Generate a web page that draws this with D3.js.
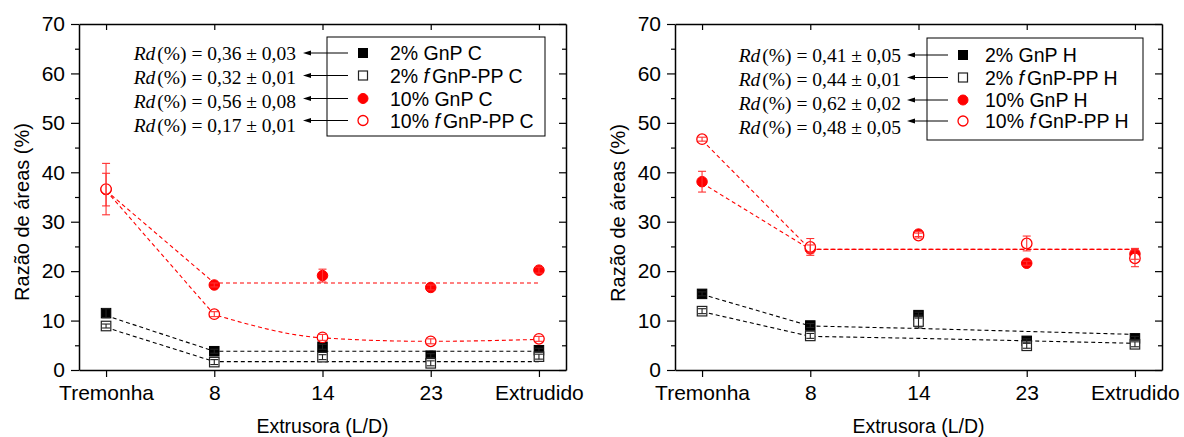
<!DOCTYPE html>
<html><head><meta charset="utf-8">
<script src="https://cdn.jsdelivr.net/npm/d3@7"></script>
<style>body{margin:0;background:#fff} svg{display:block}</style>
</head><body><svg id="c" width="1184" height="437"></svg>
<script>
const categories = ["Tremonha", "8", "14", "23", "Extrudido"];
const yTicks = [0, 10, 20, 30, 40, 50, 60, 70];
const yMinorTicks = [5, 15, 25, 35, 45, 55, 65];
const xTitle = "Extrusora (L/D)";
const yTitle = "Razão de áreas (%)";

// Left panel (C)
const cGnP2 = [11.5, 3.8, 4.7, 2.9, 4.0];
const cGnP2Err = [0.9, 0.4, 0.5, 0.4, 0.4];
const cGnP2Fit = [11.0, 3.8, 3.8, 3.8, 3.8];
const cfGnP2 = [8.9, 1.6, 2.6, 1.35, 2.7];
const cfGnP2Err = [0.4, 0.5, 0.5, 0.5, 0.5];
const cfGnP2Fit = [8.6, 1.7, 1.7, 1.7, 1.7];
const cGnP10 = [36.5, 17.2, 19.1, 16.7, 20.2];
const cGnP10Err = [3.3, 0.4, 1.3, 0.5, 0.6];
const cGnP10Fit = [36.3, 17.6, 17.6, 17.6, 17.6];
const cfGnP10 = [36.6, 11.3, 6.6, 5.8, 6.3];
const cfGnP10Err = [5.2, 0.5, 0.6, 0.5, 0.5];
const cfGnP10Fit = [36.3, 11.2, 6.5, 5.8, 6.2];
const cLegend = ["2% GnP C", "2% |f|GnP-PP C", "10% GnP C", "10% |f|GnP-PP C"];
const cRd = ["0,36 ± 0,03", "0,32 ± 0,01", "0,56 ± 0,08", "0,17 ± 0,01"];

// Right panel (H)
const hGnP2 = [15.4, 9.0, 11.1, 5.9, 6.4];
const hGnP2Err = [0.4, 0.4, 0.6, 0.4, 0.4];
const hGnP2Fit = [15.3, 8.9, 8.4, 7.8, 7.2];
const hfGnP2 = [11.9, 6.9, 9.8, 4.9, 5.2];
const hfGnP2Err = [0.5, 0.5, 1.3, 0.5, 0.5];
const hfGnP2Fit = [11.8, 6.8, 6.4, 5.9, 5.4];
const hGnP10 = [38.1, 24.5, 27.5, 21.6, 23.5];
const hGnP10Err = [2.1, 0.8, 0.5, 0.4, 1.1];
const hGnP10Fit = [37.8, 24.4, 24.4, 24.4, 24.4];
const hfGnP10 = [46.7, 24.9, 27.2, 25.6, 22.6];
const hfGnP10Err = [0.4, 1.7, 0.5, 1.5, 1.7];
const hfGnP10Fit = [46.5, 24.4, 24.4, 24.4, 24.4];
const hLegend = ["2% GnP H", "2% |f|GnP-PP H", "10% GnP H", "10% |f|GnP-PP H"];
const hRd = ["0,41 ± 0,05", "0,44 ± 0,01", "0,62 ± 0,02", "0,48 ± 0,05"];

const SANS = "'Liberation Sans', Arial, sans-serif";
const SERIF = "'Liberation Serif', 'Times New Roman', serif";
const RED = "#ff0000", BLACK = "#000000";

const svg = d3.select("#c");

function buildSeries(v, e, f, color, shape, open, smooth) {
  return { values: v, errs: e, fit: f, color, shape, open, smooth };
}

const panels = [
  {
    x0: 79, x1: 566, yTitleX: 22, yTitleY: 212,
    series: [
      buildSeries(cGnP2, cGnP2Err, cGnP2Fit, BLACK, "square", false, false),
      buildSeries(cfGnP2, cfGnP2Err, cfGnP2Fit, BLACK, "square", true, false),
      buildSeries(cGnP10, cGnP10Err, cGnP10Fit, RED, "circle", false, false),
      buildSeries(cfGnP10, cfGnP10Err, cfGnP10Fit, RED, "circle", true, true)
    ],
    legend: cLegend, rd: cRd,
    box: { x: 327, y: 37, w: 218, h: 99 },
    rowY: [53, 75.5, 98.5, 120.5], markX: 363, textX: 390,
    rdBase: [60, 84, 108, 132], rdEnd: 296, arrowFrom: 348, arrowTo: 303
  },
  {
    x0: 675, x1: 1162, yTitleX: 618, yTitleY: 213,
    series: [
      buildSeries(hGnP2, hGnP2Err, hGnP2Fit, BLACK, "square", false, false),
      buildSeries(hfGnP2, hfGnP2Err, hfGnP2Fit, BLACK, "square", true, false),
      buildSeries(hGnP10, hGnP10Err, hGnP10Fit, RED, "circle", false, false),
      buildSeries(hfGnP10, hfGnP10Err, hfGnP10Fit, RED, "circle", true, false)
    ],
    legend: hLegend, rd: hRd,
    box: { x: 927, y: 38, w: 216, h: 102 },
    rowY: [55, 77.5, 100, 121], markX: 963, textX: 985,
    rdBase: [62, 86, 110, 134], rdEnd: 901, arrowFrom: 948, arrowTo: 907
  }
];

const yTop = 24, yBot = 370;

function drawMarker(g, shape, cx, cy, color, open, size) {
  if (shape === "square") {
    g.append("rect").attr("x", cx - size / 2).attr("y", cy - size / 2)
      .attr("width", size).attr("height", size)
      .attr("fill", open ? "#fff" : color)
      .attr("stroke", open ? "#222" : color).attr("stroke-width", open ? 1.2 : 1);
  } else {
    g.append("circle").attr("cx", cx).attr("cy", cy).attr("r", size / 2 + 0.5)
      .attr("fill", open ? "#fff" : color)
      .attr("stroke", color).attr("stroke-width", open ? 1.3 : 1);
  }
}

panels.forEach(p => {
  const x = d3.scalePoint().domain(categories).range([p.x0, p.x1]).padding(0.25);
  const y = d3.scaleLinear().domain([0, 70]).range([yBot, yTop]);
  const g = svg.append("g");

  // fits
  p.series.forEach(s => {
    const pts = s.fit.map((d, j) => [x(categories[j]), y(d)]);
    let dstr;
    if (s.smooth) {
      const straight = d3.line()(pts.slice(0, 2));
      const curved = d3.line().curve(d3.curveMonotoneX)(pts.slice(1));
      dstr = straight + curved.replace(/^M/, "L");
    } else {
      dstr = d3.line()(pts);
    }
    g.append("path").attr("d", dstr).attr("fill", "none")
      .attr("stroke", s.color).attr("stroke-width", 1.1).attr("stroke-dasharray", "4,3");
  });

  // markers
  p.series.forEach(s => {
    s.values.forEach((v, j) => drawMarker(g, s.shape, x(categories[j]), y(v), s.color, s.open, 9.5));
  });

  // error bars
  p.series.forEach(s => {
    s.values.forEach((v, j) => {
      const cx = x(categories[j]);
      const e = s.errs[j];
      const col = s.color === RED ? "#ff3030" : "#222";
      g.append("line").attr("x1", cx).attr("x2", cx).attr("y1", y(v + e)).attr("y2", y(v - e))
        .attr("stroke", col).attr("stroke-width", 1.1);
      [v + e, v - e].forEach(t => g.append("line").attr("x1", cx - 4).attr("x2", cx + 4)
        .attr("y1", y(t)).attr("y2", y(t)).attr("stroke", col).attr("stroke-width", 1.1));
    });
  });

  // axes
  const axL = g.append("g").attr("transform", `translate(${p.x0},0)`)
    .call(d3.axisLeft(y).tickValues(yTicks).tickSize(8).tickPadding(6).tickSizeOuter(0));
  g.append("g").attr("transform", `translate(${p.x0},0)`)
    .call(d3.axisLeft(y).tickValues(yMinorTicks).tickSize(4).tickFormat("").tickSizeOuter(0))
    .select(".domain").remove();
  g.append("g").attr("transform", `translate(${p.x1},0)`)
    .call(d3.axisRight(y).tickValues(yTicks).tickSize(-7).tickFormat("").tickSizeOuter(0));
  g.append("g").attr("transform", `translate(${p.x1},0)`)
    .call(d3.axisRight(y).tickValues(yMinorTicks).tickSize(-4).tickFormat("").tickSizeOuter(0))
    .select(".domain").remove();
  const axB = g.append("g").attr("transform", `translate(0,${yBot})`)
    .call(d3.axisBottom(x).tickSize(7).tickPadding(8).tickSizeOuter(0));
  g.append("g").attr("transform", `translate(0,${yTop})`)
    .call(d3.axisTop(x).tickSize(-6).tickFormat("").tickSizeOuter(0));
  g.selectAll(".domain").attr("stroke", "#000").attr("stroke-width", 1.5);
  g.selectAll(".tick line").attr("stroke", "#000").attr("stroke-width", 1.2);
  [axL, axB].forEach(a => a.selectAll("text").attr("font-family", SANS).attr("font-size", 21).attr("fill", "#000"));

  // titles
  g.append("text").attr("x", (p.x0 + p.x1) / 2).attr("y", 433).attr("text-anchor", "middle")
    .attr("font-family", SANS).attr("font-size", 19.5).text(xTitle);
  g.append("text").attr("transform", `translate(${p.yTitleX},${p.yTitleY}) rotate(-90)`)
    .attr("text-anchor", "middle").attr("dy", "0.35em")
    .attr("font-family", SANS).attr("font-size", 20).text(yTitle);

  // legend
  g.append("rect").attr("x", p.box.x).attr("y", p.box.y).attr("width", p.box.w).attr("height", p.box.h)
    .attr("fill", "#fff").attr("stroke", "#000").attr("stroke-width", 1);
  p.series.forEach((s, i) => {
    const ry = p.rowY[i];
    drawMarker(g, s.shape, p.markX, ry, s.color, s.open, 9);
    const parts = p.legend[i].split("|");
    const t = g.append("text").attr("x", p.textX).attr("y", ry).attr("dy", "0.36em")
      .attr("font-family", SANS).attr("font-size", 19.5);
    t.append("tspan").text(parts[0]);
    if (parts.length > 1) {
      t.append("tspan").attr("font-style", "italic").text(parts[1]);
      t.append("tspan").attr("dx", 3).text(parts[2]);
    }
    // arrow
    g.append("line").attr("x1", p.arrowFrom).attr("x2", p.arrowTo + 6).attr("y1", ry).attr("y2", ry)
      .attr("stroke", "#000").attr("stroke-width", 1);
    g.append("path").attr("d", `M${p.arrowTo},${ry} l8,-2.5 l0,5 z`).attr("fill", "#000");
    // Rd text
    const rt = g.append("text").attr("x", p.rdEnd).attr("y", p.rdBase[i]).attr("text-anchor", "end")
      .attr("font-family", SERIF).attr("font-size", 19.5);
    rt.append("tspan").attr("font-style", "italic").text("Rd");
    rt.append("tspan").attr("dx", 2).text("(%) = " + p.rd[i]);
  });
});
</script></body></html>
